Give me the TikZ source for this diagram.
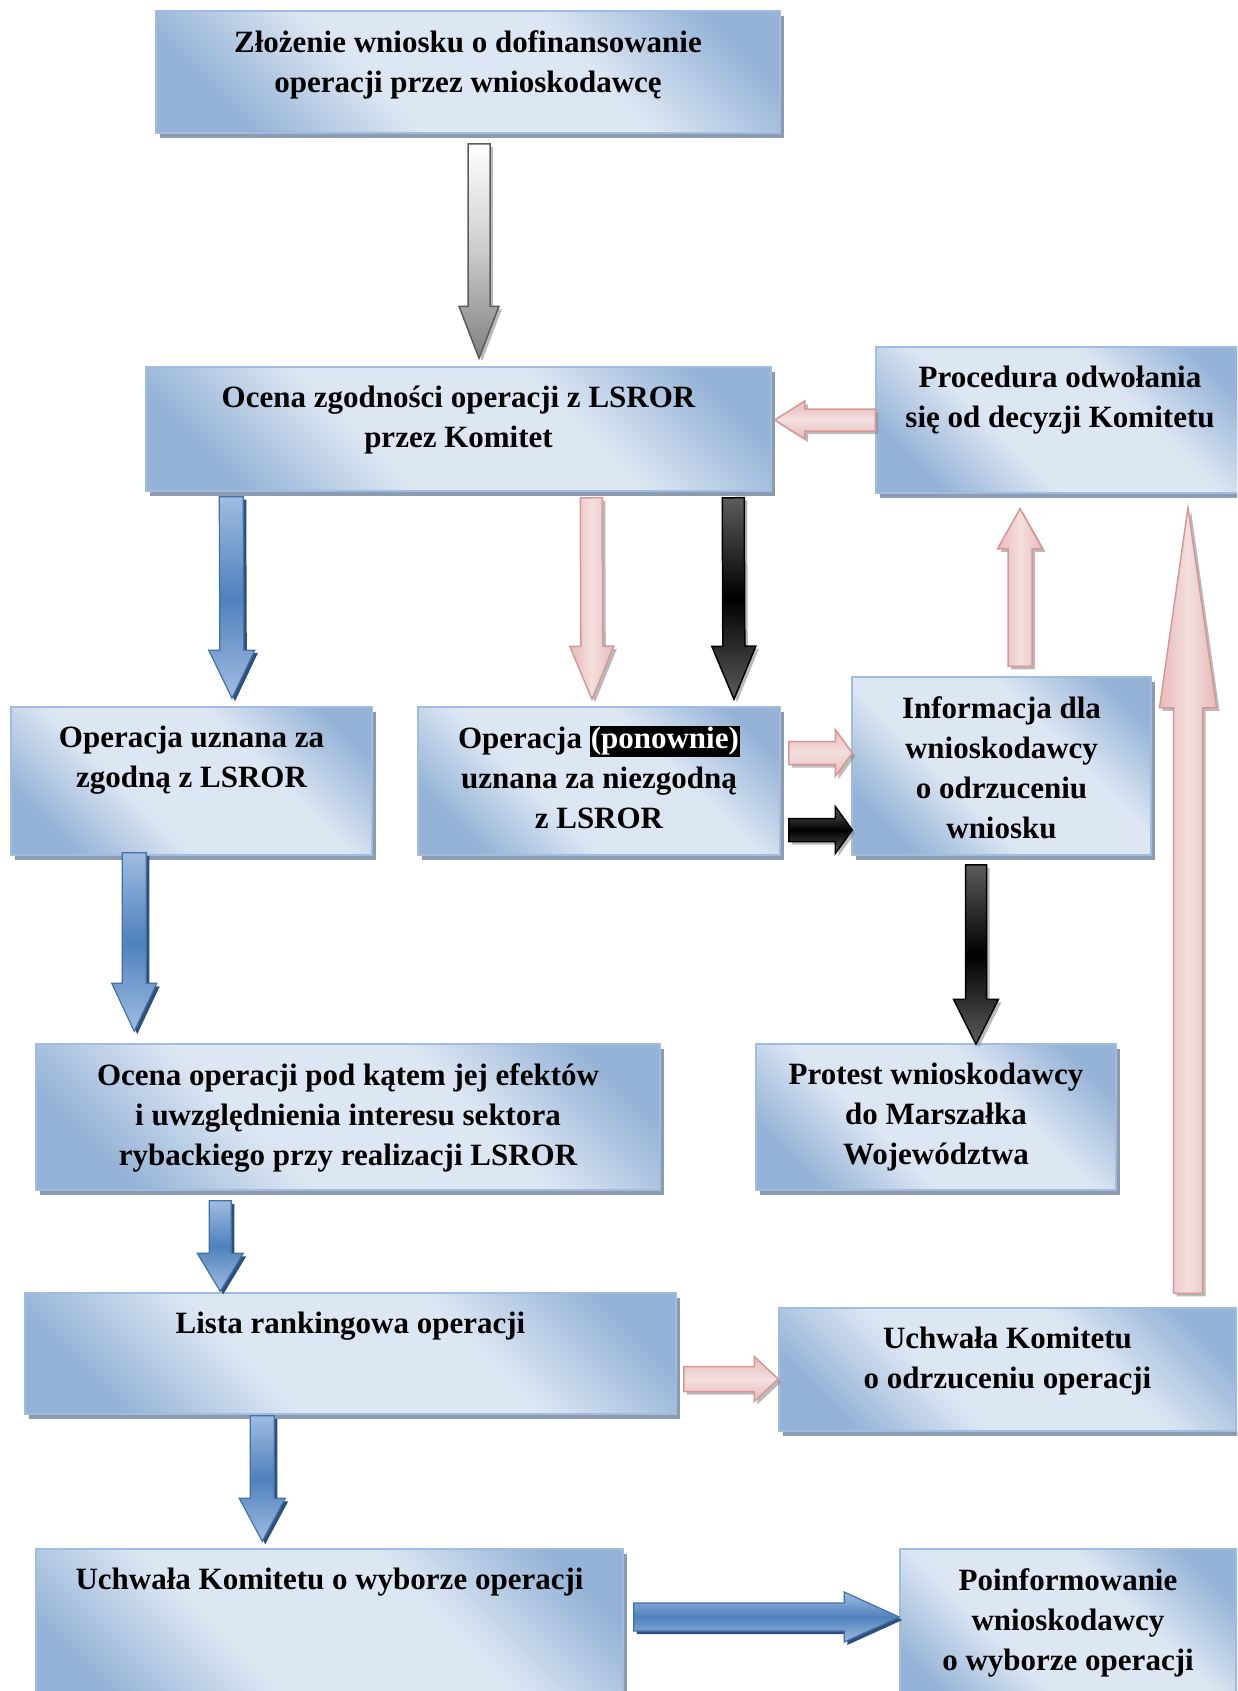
\documentclass[tikz,border=0pt]{standalone}
\usepackage{fontspec}
\setmainfont{Liberation Serif}
\usepackage{xcolor}
\usepackage{tikz}
\usetikzlibrary{calc}
\usetikzlibrary{shadows}

\definecolor{boxlight}{RGB}{221,231,243}
\definecolor{boxdark}{RGB}{149,179,215}
\definecolor{boxline}{RGB}{160,188,222}
\definecolor{boxshadow}{RGB}{141,155,176}
\definecolor{bluelight}{RGB}{160,188,224}
\definecolor{bluemid}{RGB}{79,129,189}
\definecolor{blueline}{RGB}{66,113,170}
\definecolor{pinklight}{RGB}{243,223,223}
\definecolor{pinkmid}{RGB}{231,186,185}
\definecolor{pinkline}{RGB}{217,150,148}
\definecolor{darkend}{RGB}{92,92,92}

\pgfdeclareverticalshading{stagefill}{100bp}{color(0bp)=(boxdark); color(24bp)=(boxdark); color(40bp)=(boxlight); color(62bp)=(boxlight); color(78bp)=(boxdark); color(100bp)=(boxdark)}

\def\fatarrow[#1](#2)(#3)(#4:#5:#6){\path (#2) coordinate (fa-s) (#3) coordinate (fa-e) ($(fa-e)!#6pt!(fa-s)$) coordinate (fa-b);
  \draw[#1] ($(fa-s)!#4pt!90:(fa-e)$) -- ($(fa-b)!#4pt!90:(fa-e)$) -- ($(fa-b)!#5pt!90:(fa-e)$) -- (fa-e)
    -- ($(fa-b)!#5pt!-90:(fa-e)$) -- ($(fa-b)!#4pt!-90:(fa-e)$) -- ($(fa-s)!#4pt!-90:(fa-e)$) -- cycle}

\begin{document}
\begin{tikzpicture}[x=1pt,y=-1pt,
    stagebox/.style={draw=boxline, line width=1.5pt, shading=stagefill, shading angle=-45,
        drop shadow={shadow xshift=4pt, shadow yshift=-5pt, fill=boxshadow, opacity=1}},
    boxtext/.style={font=\bfseries\fontsize{31}{40}\selectfont, align=center, inner sep=0pt, anchor=north, yshift=-20pt},
    bluearr/.style={draw=blueline, line width=1.2pt, top color=bluelight, bottom color=bluelight, middle color=bluemid,
        drop shadow={shadow xshift=3pt, shadow yshift=-3pt, fill=blueline!70!black, opacity=1}},
    pinkv/.style={draw=pinkline, line width=1.5pt, left color=pinkmid, right color=pinkmid, middle color=pinklight,
        drop shadow={shadow xshift=3pt, shadow yshift=-3pt, fill=black!45, opacity=.6}},
    pinkh/.style={draw=pinkline, line width=1.5pt, top color=pinkmid, bottom color=pinkmid, middle color=pinklight,
        drop shadow={shadow xshift=3pt, shadow yshift=-3pt, fill=black!45, opacity=.6}},
    darkarr/.style={draw=black, line width=1.5pt, top color=darkend, bottom color=darkend, middle color=black,
        drop shadow={shadow xshift=3pt, shadow yshift=-3pt, fill=black!45, opacity=.6}},
    greyarr/.style={draw=darkend, line width=1.5pt, top color=white, bottom color=black!50, middle color=black!20,
        drop shadow={shadow xshift=3pt, shadow yshift=-3pt, fill=black!45, opacity=.6}}]
        %%% FRAME %%%
        \clip (0,0) rectangle (1237,1691);

        %%% BOXES %%%
        \node[stagebox, minimum width=624pt, minimum height=122pt,
            label={[boxtext]north:{Złożenie wniosku o dofinansowanie\\operacji przez wnioskodawcę}}] (zloz) at (468,72) {};
        \node[stagebox, minimum width=625pt, minimum height=124pt,
            label={[boxtext]north:{Ocena zgodności operacji z LSROR\\przez Komitet}}] (zgod) at (458.5,429) {};
        \node[stagebox, minimum width=368pt, minimum height=146pt,
            label={[boxtext]north:{Procedura odwołania\\się od decyzji Komitetu}}] (proc) at (1060,420) {};
        \node[stagebox, minimum width=361pt, minimum height=148pt,
            label={[boxtext]north:{Operacja uznana za\\zgodną z LSROR}}] (zgodna) at (191.5,781) {};
        \node[stagebox, minimum width=362pt, minimum height=148pt,
            label={[boxtext]north:{Operacja {\setlength\fboxsep{1pt}\colorbox{black}{\textcolor{white}{(ponownie)}}}\\uznana za niezgodną\\z LSROR}}] (niezg) at (599,781) {};
        \node[stagebox, minimum width=299pt, minimum height=178pt,
            label={[boxtext]north:{Informacja dla\\wnioskodawcy\\o odrzuceniu\\wniosku}}] (info) at (1001.5,766) {};
        \node[stagebox, minimum width=624pt, minimum height=146pt,
            label={[boxtext]north:{Ocena operacji pod kątem jej efektów\\i uwzględnienia interesu sektora\\rybackiego przy realizacji LSROR}}] (ocena) at (348,1117) {};
        \node[stagebox, minimum width=360pt, minimum height=146pt,
            label={[boxtext]north:{Protest wnioskodawcy\\do Marszałka\\Województwa}}] (protest) at (936,1117) {};
        \node[stagebox, minimum width=651pt, minimum height=121pt,
            label={[boxtext]north:{Lista rankingowa operacji}}] (lista) at (350.5,1353.5) {};
        \node[stagebox, minimum width=457pt, minimum height=123pt,
            label={[boxtext]north:{Uchwała Komitetu\\o odrzuceniu operacji}}] (odrz) at (1007.5,1369.5) {};
        \node[stagebox, minimum width=587pt, minimum height=171pt,
            label={[boxtext]north:{Uchwała Komitetu o wyborze operacji}}] (wybor) at (329.5,1634.5) {};
        \node[stagebox, minimum width=336pt, minimum height=171pt,
            label={[boxtext]north:{Poinformowanie\\wnioskodawcy\\o wyborze operacji}}] (poinf) at (1068,1634.5) {};

        %%% ARROWS %%%
        \fatarrow[greyarr]($(zloz.south)+(11,10)$)($(zgod.north)+(20.5,-8)$)(11:20:52);
        \fatarrow[pinkh](proc.west)($(zgod.east)+(3,-9)$)(11:19:30);
        \fatarrow[bluearr]($(zgod.south west)+(86,5)$)($(zgodna.north)+(40.5,-8)$)(12:23:48);
        \fatarrow[pinkv]($(zgod.south west)+(446,6)$)($(niezg.north)+(-7,-7)$)(11:22:53);
        \fatarrow[darkarr]($(zgod.south west)+(588,6)$)($(niezg.north)+(135,-7)$)(11:22:53);
        \fatarrow[pinkh]($(niezg.east)+(8,-28)$)($(info.west)+(1,-13)$)(11.5:23.5:17);
        \fatarrow[darkarr]($(niezg.east)+(8,49)$)($(info.west)+(1,64)$)(11.5:23.5:17);
        \fatarrow[pinkv]($(info.north)+(18.5,-10)$)($(proc.south)+(-40,15)$)(12:22.5:40);
        \fatarrow[darkarr]($(info.south)+(-25.5,9)$)($(protest.north)+(40,1)$)(10.5:22.5:45);
        \fatarrow[bluearr]($(zgodna.south west)+(124,-3)$)($(ocena.north west)+(99,-12)$)(12:22.5:48);
        \fatarrow[bluearr]($(ocena.south west)+(185,10)$)($(lista.north west)+(196,-1)$)(11:23:38);
        \fatarrow[pinkh]($(lista.east)+(7,25.5)$)($(odrz.west)+(0,9.5)$)(12.5:22.5:24);
        \fatarrow[pinkv]($(odrz.north)+(180.5,-14)$)($(proc.south)+(128,14)$)(14.5:28.5:200);
        \fatarrow[bluearr]($(lista.south west)+(238,1)$)($(wybor.north west)+(227,-7)$)(12:23:43);
        \fatarrow[bluearr]($(wybor.east)+(10,-17.5)$)($(poinf.west)+(0,-17.5)$)(14:25:55);
    \end{tikzpicture}
\end{document}
